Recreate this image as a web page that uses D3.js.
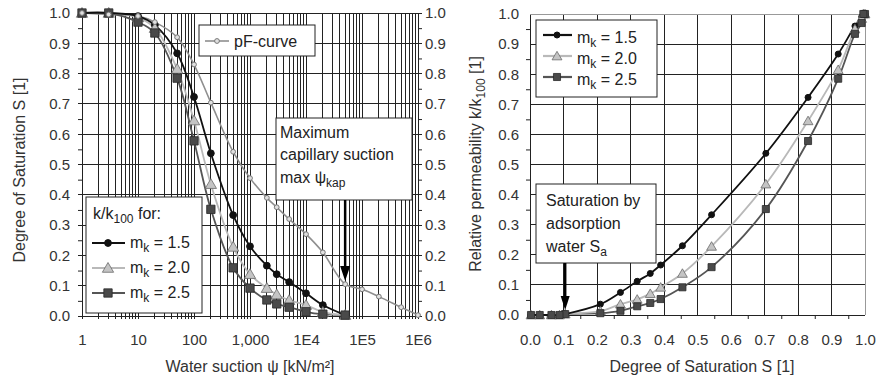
<!DOCTYPE html>
<html>
<head>
<meta charset="utf-8">
<script src="https://cdn.jsdelivr.net/npm/d3@7"></script>
<style>
  body { margin: 0; background: #fff; }
  text { font-family: "Liberation Sans", Arial, sans-serif; }
</style>
</head>
<body>
<div id="chart"></div>
<script>
// water suction [kN/m2] at each measured point
const suction = [1, 3, 10, 20, 50, 100, 200, 500, 1000, 2000, 3000, 5000, 1e4, 2e4, 5e4, 1e5, 2e5, 5e5, 1e6];
// degree of saturation (pF-curve)
const pfCurve = [1.0, 0.995, 0.99, 0.97, 0.92, 0.83, 0.704, 0.542, 0.455, 0.39, 0.359, 0.32, 0.27, 0.21, 0.105, 0.088, 0.064, 0.029, 0.003];
// relative permeability k/k100
const k15 = [1, 1, 0.99, 0.96, 0.867, 0.723, 0.537, 0.333, 0.23, 0.166, 0.138, 0.112, 0.075, 0.036, 0.003, 0, 0, 0, 0];
const k20 = [1, 1, 0.985, 0.95, 0.815, 0.645, 0.435, 0.228, 0.138, 0.092, 0.071, 0.052, 0.036, 0.013, 0.003, 0, 0, 0, 0];
const k25 = [1, 1, 0.97, 0.934, 0.785, 0.578, 0.352, 0.159, 0.092, 0.053, 0.04, 0.029, 0.014, 0.006, 0.003, 0, 0, 0, 0];

const xMajor = [1, 10, 100, 1000, 1e4, 1e5, 1e6];
const xTickLabels = ["1", "10", "100", "1,000", "1E4", "1E5", "1E6"];
const mkLabels = ["1.5", "2.0", "2.5"];

const width = 878, height = 379;
const fmt = d3.format(".1f");

const svg = d3.select("#chart").append("svg")
    .attr("width", width)
    .attr("height", height)
    .attr("viewBox", [0, 0, width, height]);
svg.append("rect").attr("width", width).attr("height", height).attr("fill", "#fff");

const series = [
    {name: "1.5", vals: k15, color: "#111", sym: "circle", fill: "#111", stroke: "#111"},
    {name: "2.0", vals: k20, color: "#b9b9b9", sym: "triangle", fill: "#c4c4c4", stroke: "#6a6a6a"},
    {name: "2.5", vals: k25, color: "#555", sym: "square", fill: "#4a4a4a", stroke: "#2a2a2a"}
];

function marker(g, s, x, y, big) {
    if (s.sym === "circle") {
        g.append("circle").attr("cx", x).attr("cy", y).attr("r", big ? 3.4 : 3)
            .attr("fill", s.fill).attr("stroke", s.stroke);
    } else {
        const type = s.sym === "triangle" ? d3.symbolTriangle : d3.symbolSquare;
        const size = s.sym === "triangle" ? (big ? 55 : 42) : (big ? 70 : 50);
        g.append("path").attr("d", d3.symbol().type(type).size(size)())
            .attr("transform", `translate(${x},${y + (s.sym === "triangle" ? 1 : 0)})`)
            .attr("fill", s.fill).attr("stroke", s.stroke).attr("stroke-width", 0.8);
    }
}

function styleAxis(g) {
    g.select(".domain").remove();
    g.selectAll("line").attr("stroke", "#222");
    g.selectAll("text").attr("font-size", 15).attr("fill", "#333")
        .attr("font-family", "Liberation Sans, Arial, sans-serif");
}

// ---------------- left chart ----------------
const xL = d3.scaleLog().domain([1, 1e6]).range([82, 418]);
const yL = d3.scaleLinear().domain([0, 1]).range([316, 13]);
const left = svg.append("g");

// grid
left.append("g").selectAll("line").data(xL.ticks()).join("line")
    .attr("x1", d => xL(d)).attr("x2", d => xL(d))
    .attr("y1", yL(0) + 3).attr("y2", yL(1))
    .attr("stroke", "#222").attr("shape-rendering", "crispEdges");
left.append("g").selectAll("line").data(d3.range(0, 11).map(i => i / 10)).join("line")
    .attr("x1", xL(1) - 4).attr("x2", xL(1e6) + 4)
    .attr("y1", d => yL(d)).attr("y2", d => yL(d))
    .attr("stroke", "#222").attr("shape-rendering", "crispEdges");
left.append("rect").attr("x", xL(1)).attr("y", yL(1))
    .attr("width", xL(1e6) - xL(1)).attr("height", yL(0) - yL(1))
    .attr("fill", "none").attr("stroke", "#222").attr("shape-rendering", "crispEdges");

// axes
const minorY = d3.range(0, 10).map(i => i / 10 + 0.05);
left.append("g").attr("transform", `translate(0,${yL(0)})`)
    .call(d3.axisBottom(xL).tickValues(xMajor).tickSize(0).tickPadding(18)
        .tickFormat((d, i) => xTickLabels[i]))
    .call(styleAxis);
left.append("g").attr("transform", `translate(${xL(1)},0)`)
    .call(d3.axisLeft(yL).tickValues(d3.range(0, 11).map(i => i / 10)).tickSize(0).tickPadding(12).tickFormat(fmt))
    .call(styleAxis);
left.append("g").attr("transform", `translate(${xL(1)},0)`)
    .call(d3.axisLeft(yL).tickValues(minorY).tickSize(4).tickFormat(""))
    .call(styleAxis);
left.append("g").attr("transform", `translate(${xL(1e6)},0)`)
    .call(d3.axisRight(yL).tickValues(d3.range(0, 11).map(i => i / 10)).tickSize(0).tickPadding(7).tickFormat(fmt))
    .call(styleAxis);
left.append("g").attr("transform", `translate(${xL(1e6)},0)`)
    .call(d3.axisRight(yL).tickValues(minorY).tickSize(4).tickFormat(""))
    .call(styleAxis);

const lineCurve = d3.curveCatmullRom.alpha(0.5);

// pF-curve
const pfData = suction.map((s, i) => ({x: s, y: pfCurve[i]}));
left.append("path").datum(pfData)
    .attr("d", d3.line().x(d => xL(d.x)).y(d => yL(d.y)).curve(lineCurve))
    .attr("fill", "none").attr("stroke", "#8f8f8f").attr("stroke-width", 1.6);

series.slice().reverse().forEach(s => {
    const data = suction.map((x, i) => ({x, y: s.vals[i]})).filter(d => d.y > 0);
    left.append("path").datum(data)
        .attr("d", d3.line().x(d => xL(d.x)).y(d => yL(d.y)).curve(lineCurve))
        .attr("fill", "none").attr("stroke", s.color).attr("stroke-width", 1.8);
});
series.forEach(s => {
    const g = left.append("g");
    suction.forEach((x, i) => { if (s.vals[i] > 0) marker(g, s, xL(x), yL(s.vals[i]), true); });
});
left.append("g").selectAll("circle").data(pfData).join("circle")
    .attr("cx", d => xL(d.x)).attr("cy", d => yL(d.y)).attr("r", 2.4)
    .attr("fill", "#e0e0e0").attr("stroke", "#777").attr("stroke-width", 1);

// pF legend
left.append("rect").attr("x", 199).attr("y", 25).attr("width", 116).attr("height", 31)
    .attr("fill", "#fff").attr("stroke", "#222");
left.append("line").attr("x1", 205).attr("x2", 229).attr("y1", 41).attr("y2", 41)
    .attr("stroke", "#8f8f8f").attr("stroke-width", 1.6);
left.append("circle").attr("cx", 217).attr("cy", 41).attr("r", 2.4)
    .attr("fill", "#e0e0e0").attr("stroke", "#777");
left.append("text").attr("x", 234).attr("y", 47).attr("font-size", 16).attr("fill", "#222").text("pF-curve");

// Maximum capillary suction box + arrow
left.append("rect").attr("x", 276).attr("y", 118).attr("width", 136).attr("height", 82)
    .attr("fill", "#fff").attr("stroke", "#222");
left.append("text").attr("x", 280).attr("y", 138).attr("font-size", 16).attr("fill", "#222").text("Maximum");
left.append("text").attr("x", 280).attr("y", 160).attr("font-size", 16).attr("fill", "#222").text("capillary suction");
const mx = left.append("text").attr("x", 280).attr("y", 183).attr("font-size", 16).attr("fill", "#222");
mx.append("tspan").text("max  ψ");
mx.append("tspan").attr("dy", 4).attr("font-size", 12).text("kap");
const ax = xL(5e4);
left.append("line").attr("x1", ax).attr("x2", ax).attr("y1", 200).attr("y2", 268)
    .attr("stroke", "#000").attr("stroke-width", 2.5);
left.append("path").attr("d", `M${ax - 5},266 L${ax + 5},266 L${ax},281 Z`).attr("fill", "#000");

// k/k100 legend
left.append("rect").attr("x", 86).attr("y", 197).attr("width", 116).attr("height", 116)
    .attr("fill", "#fff").attr("stroke", "#222");
const lt = left.append("text").attr("x", 93).attr("y", 219).attr("font-size", 16).attr("fill", "#222");
lt.append("tspan").text("k/k");
lt.append("tspan").attr("dy", 4).attr("font-size", 12).text("100");
lt.append("tspan").attr("dy", -4).text(" for:");
series.forEach((s, i) => {
    const y = 243 + i * 25;
    left.append("line").attr("x1", 92).attr("x2", 125).attr("y1", y).attr("y2", y)
        .attr("stroke", s.color).attr("stroke-width", 2.2);
    marker(left, s, 108, y, true);
    const t = left.append("text").attr("x", 130).attr("y", y + 5).attr("font-size", 16).attr("fill", "#222");
    t.append("tspan").text("m");
    t.append("tspan").attr("dy", 4).attr("font-size", 12).text("k");
    t.append("tspan").attr("dy", -4).text(" = " + mkLabels[i]);
});

// axis titles
svg.append("text").attr("x", 250).attr("y", 372).attr("text-anchor", "middle")
    .attr("font-size", 16).attr("fill", "#333").text("Water suction ψ [kN/m²]");
svg.append("text").attr("transform", "translate(25,170) rotate(-90)").attr("text-anchor", "middle")
    .attr("font-size", 16).attr("fill", "#333").text("Degree of Saturation S [1]");

// ---------------- right chart ----------------
const xR = d3.scaleLinear().domain([0, 1]).range([530, 865]);
const yR = d3.scaleLinear().domain([0, 1]).range([315, 14]);
const right = svg.append("g");
const tens = d3.range(0, 11).map(i => i / 10);

right.append("g").selectAll("line").data(tens).join("line")
    .attr("x1", d => xR(d)).attr("x2", d => xR(d)).attr("y1", yR(0)).attr("y2", yR(1))
    .attr("stroke", d => d === 1 ? "#999" : "#222").attr("shape-rendering", "crispEdges");
right.append("g").selectAll("line").data(tens).join("line")
    .attr("x1", xR(0)).attr("x2", xR(1)).attr("y1", d => yR(d)).attr("y2", d => yR(d))
    .attr("stroke", d => d === 1 ? "#999" : "#222").attr("shape-rendering", "crispEdges");

right.append("g").attr("transform", `translate(0,${yR(0)})`)
    .call(d3.axisBottom(xR).tickValues(tens).tickSize(0).tickPadding(19).tickFormat(fmt))
    .call(styleAxis);
right.append("g").attr("transform", `translate(0,${yR(0)})`)
    .call(d3.axisBottom(xR).tickValues(minorY).tickSize(4).tickFormat(""))
    .call(styleAxis);
right.append("g").attr("transform", `translate(${xR(0)},0)`)
    .call(d3.axisLeft(yR).tickValues(tens).tickSize(0).tickPadding(11).tickFormat(fmt))
    .call(styleAxis);
right.append("g").attr("transform", `translate(${xR(0)},0)`)
    .call(d3.axisLeft(yR).tickValues(minorY).tickSize(4).tickFormat(""))
    .call(styleAxis);

series.slice().reverse().forEach(s => {
    const data = pfCurve.map((x, i) => ({x, y: s.vals[i]}));
    right.append("path").datum(data)
        .attr("d", d3.line().x(d => xR(d.x)).y(d => yR(d.y)).curve(lineCurve))
        .attr("fill", "none").attr("stroke", s.color).attr("stroke-width", 1.8);
});
series.forEach(s => {
    const g = right.append("g");
    pfCurve.forEach((x, i) => marker(g, s, xR(x), yR(s.vals[i]), false));
});

// right legend
right.append("rect").attr("x", 536).attr("y", 20).attr("width", 121).attr("height", 77)
    .attr("fill", "#fff").attr("stroke", "#222");
series.forEach((s, i) => {
    const y = 35 + i * 21;
    right.append("line").attr("x1", 543).attr("x2", 572).attr("y1", y).attr("y2", y)
        .attr("stroke", s.color).attr("stroke-width", 2.2);
    marker(right, s, 557, y, false);
    const t = right.append("text").attr("x", 577).attr("y", y + 8).attr("font-size", 16).attr("fill", "#222");
    t.append("tspan").text("m");
    t.append("tspan").attr("dy", 4).attr("font-size", 12).text("k");
    t.append("tspan").attr("dy", -4).text(" = " + mkLabels[i]);
});

// adsorption water box + arrow
right.append("rect").attr("x", 536).attr("y", 184).attr("width", 120).attr("height", 79)
    .attr("fill", "#fff").attr("stroke", "#222");
right.append("text").attr("x", 546).attr("y", 206).attr("font-size", 16).attr("fill", "#222").text("Saturation by");
right.append("text").attr("x", 546).attr("y", 229).attr("font-size", 16).attr("fill", "#222").text("adsorption");
const wt = right.append("text").attr("x", 546).attr("y", 252).attr("font-size", 16).attr("fill", "#222");
wt.append("tspan").text("water S");
wt.append("tspan").attr("dy", 4).attr("font-size", 12).text("a");
const bx = xR(0.105);
right.append("line").attr("x1", bx).attr("x2", bx).attr("y1", 263).attr("y2", 298)
    .attr("stroke", "#000").attr("stroke-width", 2.5);
right.append("path").attr("d", `M${bx - 4.5},296 L${bx + 4.5},296 L${bx},310 Z`).attr("fill", "#000");

svg.append("text").attr("x", 702).attr("y", 372).attr("text-anchor", "middle")
    .attr("font-size", 16).attr("fill", "#333").text("Degree of Saturation S [1]");
const rt = svg.append("text").attr("transform", "translate(481,164) rotate(-90)").attr("text-anchor", "middle")
    .attr("font-size", 16).attr("fill", "#333");
rt.append("tspan").text("Relative permeability k/k");
rt.append("tspan").attr("dy", 4).attr("font-size", 12).text("100");
rt.append("tspan").attr("dy", -4).text(" [1]");
</script>
</body>
</html>
